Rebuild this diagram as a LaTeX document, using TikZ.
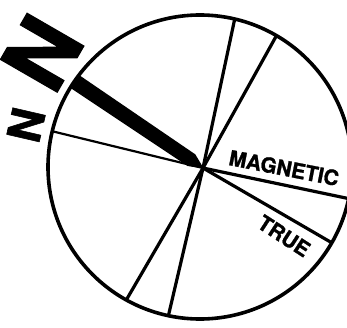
\documentclass[tikz,border=0pt]{standalone}
\usepackage{fontspec}
\setsansfont[BoldFeatures={FakeBold=1.2}]{TeX Gyre Heros}
\usetikzlibrary{calc}
\begin{document}
\begin{tikzpicture}[x=1pt,y=1pt,
  spoke/.style={line width=3.2pt},
  thinspoke/.style={line width=2.2pt},
  rim/.style={line width=3.6pt},
  lbl/.style={inner sep=0pt}]
\useasboundingbox (0,0) rectangle (347,327);
\coordinate (c) at (200,160);
\coordinate (h) at (203,159);
% spoke end points on the rim
\coordinate (eA) at ($(c)+(166.4:152)$);
\coordinate (eB) at ($(c)+(76.8:152)$);
\coordinate (eC) at ($(c)+(59.8:152)$);
\coordinate (eD) at ($(c)+(-12:152)$);
\coordinate (eE) at ($(c)+(-29.9:152)$);
\coordinate (eF) at ($(c)+(-102:152)$);
\coordinate (eG) at ($(c)+(-119:152)$);
% thick north bar
\begin{scope}
  \clip (c) circle (152);
  \fill ($(h)+(146:200)+(56:8)$) -- ($(h)+(146:14)+(56:7)$) -- ($(h)+(-34:1)$)
        -- ($(h)+(146:14)+(236:7)$) -- ($(h)+(146:200)+(236:8)$) -- cycle;
\end{scope}
% spokes
\draw[thinspoke] (h) -- (eA);
\draw[spoke] (h) -- (eB);
\draw[spoke] (h) -- (eC);
\draw[spoke] (h) -- (eD);
\draw[spoke] (h) -- (eE);
\draw[spoke] (h) -- (eF);
\draw[spoke] (h) -- (eG);
% rim
\draw[rim] (c) circle (152);
% labels
\node[lbl, font=\sffamily\bfseries\fontsize{21}{21}\selectfont, rotate=-11] (mag) at (284,159) {MAGNETIC};
\node[lbl, font=\sffamily\bfseries\fontsize{21}{21}\selectfont, rotate=-33] (true) at (284,91) {TRUE};
\node[lbl, font=\sffamily\bfseries\fontsize{90}{90}\selectfont, rotate=60] (bigN) at (42,274) {N};
\node[lbl, font=\sffamily\bfseries\fontsize{46}{46}\selectfont, rotate=77] (smallN) at (26,202) {N};
\end{tikzpicture}
\end{document}
